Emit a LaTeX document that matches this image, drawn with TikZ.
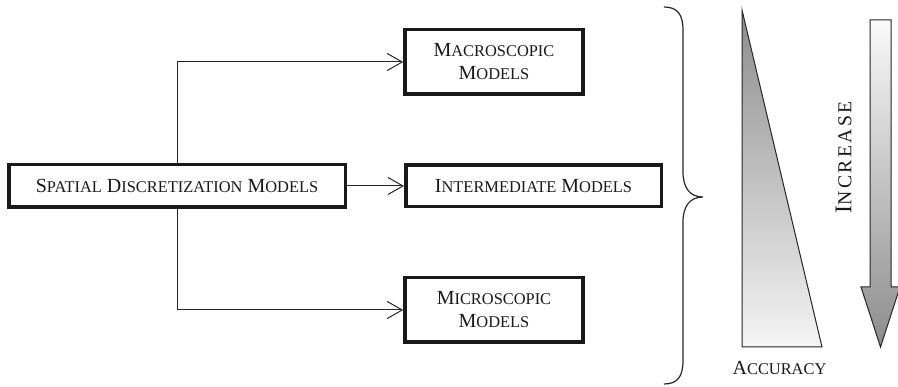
\documentclass[tikz,border=0pt]{standalone}
\usepackage{fontspec}
\setmainfont{Liberation Serif}
\newfontfamily\spacedfont[LetterSpace=12]{Liberation Serif}
\usetikzlibrary{arrows.meta}
\newcommand{\fsc}[2]{#1{\fontsize{16.4}{16.4}\selectfont #2}}
\newcommand{\bigfsc}[2]{#1{\fontsize{19.7}{19.7}\selectfont #2}}

\begin{document}
\begin{tikzpicture}[x=1pt, y=-1pt, >={Straight Barb[length=15pt,width=17pt]},
  modelbox/.style={draw=black!90, line width=3.5pt, inner sep=0pt, align=center,
    font=\fontsize{20}{23}\selectfont, text=black!90},
  link/.style={->, line width=1pt, draw=black!85}]
  \useasboundingbox (0,0) rectangle (898,387);

  % 1. モデルの箱
  \node[modelbox, minimum width=336.5pt, minimum height=42.5pt] (spatial) at (177,186)
    {\fsc{S}{PATIAL} \fsc{D}{ISCRETIZATION} \fsc{M}{ODELS}};
  \node[modelbox, minimum width=178pt, minimum height=64.5pt] (macro) at (494,62)
    {\fsc{M}{ACROSCOPIC}\\\fsc{M}{ODELS}};
  \node[modelbox, minimum width=255.5pt, minimum height=41.5pt] (inter) at (533.5,186)
    {\fsc{I}{NTERMEDIATE} \fsc{M}{ODELS}};
  \node[modelbox, minimum width=178pt, minimum height=64.5pt] (micro) at (494,310)
    {\fsc{M}{ICROSCOPIC}\\\fsc{M}{ODELS}};

  % 2. 矢印
  \draw[link] (spatial) |- (macro);
  \draw[link] (spatial) -- (inter);
  \draw[link] (spatial) |- (micro);

  % 3. 波括弧
  \draw[line width=1.2pt, black!85] (664,7) .. controls (677,7) and (683,14) .. (683,30)
    -- (683,172) .. controls (683,188) and (690,197) .. (703,197)
    .. controls (690,197) and (683,206) .. (683,222)
    -- (683,361) .. controls (683,377) and (677,384) .. (664,384);

  % 4. 精度の三角形
  \draw[line width=1pt, black!85, top color=black!45, bottom color=black!4]
    (742,10) -- (742,347) -- (822,347) -- cycle;
  \node[font=\fontsize{20}{23}\selectfont, text=black!90, anchor=base] (acc) at (779.5,375)
    {\fsc{A}{CCURACY}};

  % 5. 増加の矢印
  \draw[line width=1pt, black!85, top color=black!2, bottom color=black!45]
    (870,20) -- (891,20) -- (891,287) -- (900,287) -- (880.5,347)
    -- (861,287) -- (870,287) -- cycle;
  \node[font=\spacedfont\fontsize{24}{28}\selectfont, text=black!90, rotate=90] (inc) at (843.5,157.5)
    {\bigfsc{I}{NCREASE}};

\end{tikzpicture}
\end{document}
